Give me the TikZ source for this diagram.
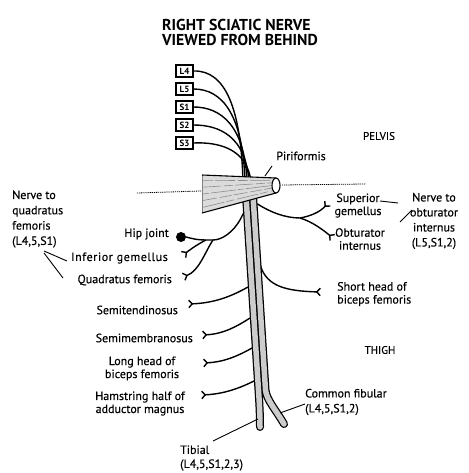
\documentclass[tikz,border=0pt]{standalone}
\usepackage{fontspec}
\setmainfont{PT Sans}
\newfontfamily\labelfont{PT Sans}[FakeBold=0.35]
\newfontfamily\widelabelfont{PT Sans}[FakeBold=0.35, LetterSpace=5]
\usetikzlibrary{arrows.meta}
\definecolor{tubegray}{gray}{0.80}
\definecolor{musclegray}{gray}{0.86}
\definecolor{fibre}{gray}{0.55}
\begin{document}
\begin{tikzpicture}[x=1pt,y=-1pt,
  lbl/.style={font=\labelfont\fontsize{12}{13}\selectfont, inner sep=0pt},
  caps/.style={font=\labelfont\fontsize{11}{13}\selectfont, inner sep=0pt},
  ttl/.style={font=\fontsize{15.8}{16}\selectfont\bfseries, inner sep=0pt, anchor=west},
  seg/.style={draw, line width=1.1pt, minimum width=17pt, minimum height=12pt,
              inner sep=0pt, font=\fontsize{9}{10}\selectfont\bfseries},
  nerve/.style={line width=1.4pt, line cap=round},
  twig/.style={line width=1.4pt, -{Straight Barb[reversed,length=3.5pt,width=7.5pt]}},
  leader/.style={line width=0.9pt},
  rule/.style={line width=0.8pt, dash pattern=on 1.2pt off 0.9pt},
  streak/.style={draw=fibre, line width=0.6pt},
  tubeout/.style={line width=8pt, line cap=round},
  tubein/.style={line width=5.5pt, line cap=round, draw=tubegray}
]
\useasboundingbox (0,0) rectangle (468,473);

% ---------- title ----------
\node[ttl] (title1) at (162,24.5) {RIGHT SCIATIC NERVE};
\node[ttl] (title2) at (162,40) {VIEWED FROM BEHIND};

% ---------- spinal segments ----------
\node[seg] (L4) at (184.5,71)  {L4};
\node[seg] (L5) at (184.5,89)  {L5};
\node[seg] (S1) at (184.5,107) {S1};
\node[seg] (S2) at (184.5,125) {S2};
\node[seg] (S3) at (184.5,143) {S3};

% roots gathering into the trunk
\draw[nerve] (L4.east) .. controls (226,70)  and (241,110) .. (243,182);
\draw[nerve] (L5.east) .. controls (223,89)  and (243,116) .. (245,182);
\draw[nerve] (S1.east) .. controls (221,107) and (245,126) .. (247,182);
\draw[nerve] (S2.east) .. controls (219,125) and (246,136) .. (249,182);
\draw[nerve] (S3.east) .. controls (216,142) and (247,147) .. (251,182);

% ---------- branch points on the trunk ----------
\coordinate (hipA)  at (243,214);
\coordinate (obA)   at (257.5,204);
\coordinate (shA)   at (260.5,266);
\coordinate (stA)   at (248,287);
\coordinate (smA)   at (250,318);
\coordinate (lhA)   at (252,348);
\coordinate (amA)   at (254,381);

% hip joint and its twigs
\node[circle, fill=black, minimum size=10pt, inner sep=0pt] (hip) at (181,237) {};
\coordinate (hipB) at (206,240);
\coordinate (hipC) at (213,240);
\draw[nerve] (hipA) .. controls (235,232) and (222,240) .. (hipC) -- (hipB)
   .. controls (196,240) and (190,238) .. (hip.east);
\coordinate (igE) at (183,255);
\coordinate (qfE) at (183,277);
\draw[twig] (hipB) .. controls (198,244) and (191,249) .. (igE);
\draw[twig] (hipC) .. controls (205,252) and (199,271) .. (qfE);

% gemelli / obturator internus twigs
\coordinate (obB) at (300,218);
\coordinate (sgE) at (328,203);
\coordinate (oiE) at (333,238);
\draw[nerve] (obA) .. controls (270,212) and (285,218) .. (obB);
\draw[twig] (obB) .. controls (311,216) and (320,212) .. (sgE);
\draw[twig] (obB) .. controls (313,222) and (323,230) .. (oiE);

% short head of biceps femoris
\coordinate (shE) at (321,292);
\draw[twig] (shA) .. controls (267,286) and (285,291) .. (shE);

% hamstring twigs
\coordinate (stE) at (188,304);
\coordinate (smE) at (202,335);
\coordinate (lhE) at (203,363);
\coordinate (amE) at (201,395);
\draw[twig] (stA) .. controls (232,296) and (215,303) .. (stE);
\draw[twig] (smA) .. controls (236,327) and (223,334) .. (smE);
\draw[twig] (lhA) .. controls (238,356) and (224,362) .. (lhE);
\draw[twig] (amA) .. controls (240,388) and (224,394) .. (amE);

% ---------- sciatic trunk: tibial and common fibular strands ----------
\coordinate (tibTop) at (245.5,188);
\coordinate (fibTop) at (252.5,188);
\coordinate (tibEnd) at (260,427);
\coordinate (fibEnd) at (284,424);
\draw[tubeout] (tibTop) -- (258.5,390) .. controls (259.5,405) and (260,415) .. (tibEnd);
\draw[tubeout] (fibTop) -- (265.5,390) .. controls (266.5,400) and (276,410) .. (fibEnd);
\draw[tubein]  (tibTop) -- (258.5,390) .. controls (259.5,405) and (260,415) .. (tibEnd);
\draw[tubein]  (fibTop) -- (265.5,390) .. controls (266.5,400) and (276,410) .. (fibEnd);

% ---------- piriformis ----------
\fill[musclegray] (202,175) -- (276,178) -- (276,193) -- (202,213) -- cycle;
\draw[streak, dash pattern=on 10pt off 2pt on 20pt off 3pt] (203,180.7) -- (272,180.3);
\draw[streak, dash pattern=on 18pt off 3pt on 9pt off 2pt]  (203,187.2) -- (272,182.8);
\draw[streak, dash pattern=on 6pt off 2pt on 25pt off 2pt]  (203,194.0) -- (272,185.5);
\draw[streak, dash pattern=on 14pt off 3pt on 12pt off 2pt] (203,200.5) -- (272,188.0);
\draw[streak, dash pattern=on 22pt off 2pt on 8pt off 3pt]  (203,207.3) -- (272,190.8);
\draw[gray, line width=0.5pt] (202,175) -- (202,213);
\draw[line width=1.1pt] (202,175) -- (276,178);
\draw[line width=1.1pt] (202,213) -- (276,193);
\draw[line width=1.1pt, fill=white] (276,185.5) ellipse [x radius=4, y radius=7.5];

% horizontal reference lines
\coordinate (ruleL1) at (137,193);
\coordinate (ruleL2) at (201,191);
\coordinate (ruleR1) at (282,185);
\coordinate (ruleR2) at (366,184);
\draw[rule] (ruleL1) -- (ruleL2);
\draw[rule] (ruleR1) -- (ruleR2);

% ---------- labels ----------
\node[caps] (pelvis) at (379,136) {PELVIS};
\node[caps] (thigh)  at (380,350) {THIGH};

\node[lbl] (pirif) at (301,156) {Piriformis};
\draw[leader] (272,166) -- (265,176);

\node[lbl, align=center] (supg) at (358,205.5) {Superior\\gemellus};
\node[lbl, align=center] (obti) at (360,239) {Obturator\\internus};
\node[lbl, align=center, font=\labelfont\fontsize{12}{15}\selectfont] (nobt) at (434,221) {Nerve to\\obturator\\internus\\(L5,S1,2)};
\draw[leader] (380,201) -- (398,203);
\draw[leader] (400,222) -- (412,210);

\node[lbl, align=left, anchor=west] (shbf) at (337,294) {Short head of\\biceps femoris};

\node[lbl, align=left, anchor=west, font=\labelfont\fontsize{12}{15}\selectfont] (cfib) at (305,402) {Common fibular\\(L4,5,S1,2)};
\draw[leader] (280,413) -- (cfib.west |- 0,404);

\node[lbl, align=left, anchor=west, font=\labelfont\fontsize{12}{14}\selectfont] (tib) at (180,458) {Tibial\\(L4,5,S1,2,3)};
\draw[leader] (213,441) -- (258,419);

\node[lbl, align=left, anchor=west, font=\labelfont\fontsize{12}{15.3}\selectfont] (nqf) at (12,219) {Nerve to\\quadratus\\femoris\\(L4,5,S1)};
\node[lbl, anchor=east] (hipl) at (169,234) {Hip joint};
\node[lbl, anchor=east, font=\widelabelfont\fontsize{12}{13}\selectfont] (igl) at (168,258) {Inferior gemellus};
\node[lbl, anchor=east] (qfl)  at (172,280) {Quadratus femoris};
\draw[leader] (44,251) -- (67,261);
\draw[leader] (44,253) -- (63,278);

\node[lbl, anchor=east] (stl) at (178,310) {Semitendinosus};
\node[lbl, anchor=east] (sml) at (193,338) {Semimembranosus};
\node[lbl, align=center] (lhl) at (142,368.5) {Long head of\\biceps femoris};
\node[lbl, align=center] (aml) at (140,403.5) {Hamstring half of\\adductor magnus};
\end{tikzpicture}
\end{document}
